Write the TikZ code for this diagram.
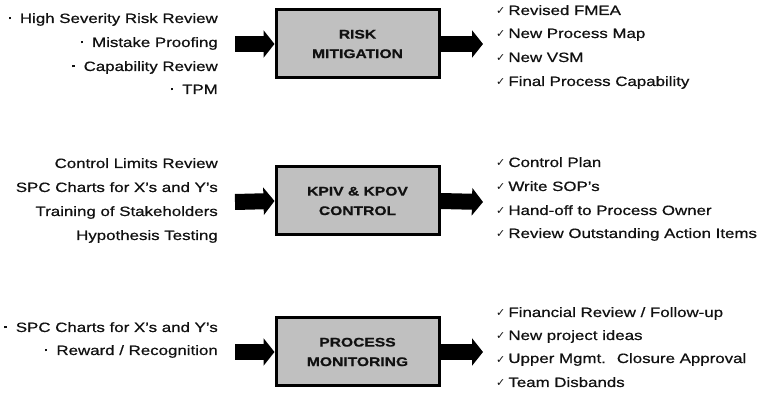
\documentclass[tikz,border=0pt]{standalone}
\usepackage{fontspec}
\setmainfont{Liberation Sans}[FakeStretch=1.25,FakeBold=0.7]
\newfontfamily\checkfont{DejaVu Sans}
\usetikzlibrary{arrows.meta}
\definecolor{boxgray}{HTML}{C0C0C0}
\definecolor{ink}{HTML}{111111}
\newcommand{\chk}{{\checkfont\fontsize{11}{11}\selectfont ✓}\hspace{3pt}}
\newcommand{\bul}{\raisebox{3.5pt}{\rule{2.4pt}{2.4pt}}\hspace{9pt}}

\begin{document}
\begin{tikzpicture}[x=1pt,y=-1pt,
  stage/.style={draw=black, line width=3pt, fill=boxgray, minimum width=163pt,
    minimum height=68pt, inner sep=0pt, align=center, text=ink,
    font=\fontsize{12.5}{19.5}\selectfont\bfseries},
  intext/.style={anchor=base east, inner sep=0pt, text=ink,
    font=\fontsize{13.5}{16}\selectfont},
  outtext/.style={anchor=base west, inner sep=0pt, text=ink,
    font=\fontsize{13.5}{16}\selectfont},
  fatarrow/.style={draw=black, line width=16pt,
    -{Triangle[length=11pt,width=27pt]}}
]
\useasboundingbox (0,0) rectangle (764,398);

% ---- stage boxes ----
\node[stage] (risk) at (357.5,44)  {RISK\\MITIGATION};
\node[stage] (ctrl) at (357.5,201) {KPIV \& KPOV\\CONTROL};
\node[stage] (mon)  at (357.5,352) {PROCESS\\MONITORING};

% ---- arrow ends ----
\coordinate (riskin)  at (235,44);
\coordinate (riskout) at (483,44);
\coordinate (ctrlin)  at (235,202);
\coordinate (ctrlout) at (483,202);
\coordinate (monin)   at (235,352);
\coordinate (monout)  at (483,352);

\draw[fatarrow] (riskin) -- (risk.west);
\draw[fatarrow] (risk.east) -- (riskout);
\draw[fatarrow] (ctrlin) -- (ctrl.west);
\draw[fatarrow] (ctrl.east) -- (ctrlout);
\draw[fatarrow] (monin) -- (mon.west);
\draw[fatarrow] (mon.east) -- (monout);

% ---- inputs ----
\node[intext] (i11) at (218,23) {\bul High Severity Risk Review};
\node[intext] (i12) at (218,47) {\bul Mistake Proofing};
\node[intext] (i13) at (218,71) {\bul Capability Review};
\node[intext] (i14) at (218,94) {\bul TPM};

\node[intext] (i21) at (218,168) {Control Limits Review};
\node[intext] (i22) at (218,192) {SPC Charts  for X's and Y's};
\node[intext] (i23) at (218,216) {Training of Stakeholders};
\node[intext] (i24) at (218,240) {Hypothesis Testing};

\node[intext] (i31) at (218,332) {\bul SPC Charts  for X's and Y's};
\node[intext] (i32) at (218,355) {\bul Reward / Recognition};

% ---- outputs ----
\node[outtext] (o11) at (496,15) {\chk Revised FMEA};
\node[outtext] (o12) at (496,38) {\chk New Process Map};
\node[outtext] (o13) at (496,62) {\chk New VSM};
\node[outtext] (o14) at (496,86) {\chk Final Process Capability};

\node[outtext] (o21) at (496,167) {\chk Control Plan};
\node[outtext] (o22) at (496,191) {\chk Write SOP's};
\node[outtext] (o23) at (496,215) {\chk Hand-off to Process Owner};
\node[outtext] (o24) at (496,238) {\chk Review Outstanding Action Items};

\node[outtext] (o31) at (496,317) {\chk Financial Review / Follow-up};
\node[outtext] (o32) at (496,340) {\chk New project ideas};
\node[outtext] (o33) at (496,363) {\chk Upper Mgmt.~ Closure Approval};
\node[outtext] (o34) at (496,387) {\chk Team Disbands};
\end{tikzpicture}
\end{document}
